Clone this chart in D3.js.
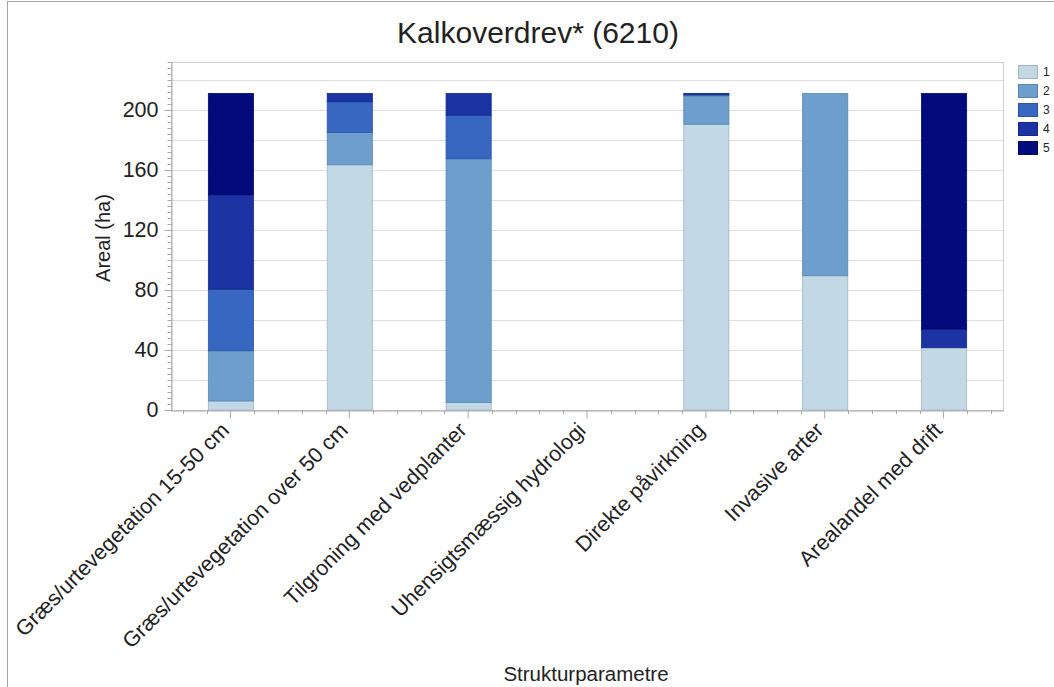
<!DOCTYPE html>
<html>
<head>
<meta charset="utf-8">
<script src="https://cdn.jsdelivr.net/npm/d3@7"></script>
<style>
  body { margin: 0; background: #fff; }
  svg text { font-family: "Liberation Sans", Arial, sans-serif; }
</style>
</head>
<body>
<div id="container"></div>
<script>
/* CONSTANTS AND GLOBALS */
const width = 1054, height = 687;
const margin = { top: 62, right: 51, bottom: 277, left: 171 };
const innerW = width - margin.left - margin.right;
const innerH = height - margin.top - margin.bottom;

// data
const categories = [
  "Græs/urtevegetation 15-50 cm",
  "Græs/urtevegetation over 50 cm",
  "Tilgroning med vedplanter",
  "Uhensigtsmæssig hydrologi",
  "Direkte påvirkning",
  "Invasive arter",
  "Arealandel med drift"
];
const seriesKeys = ["1", "2", "3", "4", "5"];
const s1 = [6, 163.5, 5, 0, 190.5, 89.5, 41.5];
const s2 = [33.5, 21.5, 162.5, 0, 19, 121.5, 0];
const s3 = [41, 20.5, 29, 0, 1, 0, 0];
const s4 = [63, 5.5, 14.5, 0, 0.5, 0, 12.5];
const s5 = [67.5, 0, 0, 0, 0, 0, 157];
const yTicks = [0, 40, 80, 120, 160, 200];
const colors = ["#c3d8e5", "#6e9ecc", "#3767c0", "#1b33a3", "#030a7c"];
const strokes = ["#9fb6c6", "#5a86b4", "#2c55a6", "#15298a", "#020765"];

const table = categories.map((c, i) => ({
  cat: c, "1": s1[i], "2": s2[i], "3": s3[i], "4": s4[i], "5": s5[i]
}));
const stacked = d3.stack().keys(seriesKeys)(table);

const svgRoot = d3.select("#container").append("svg")
  .attr("width", width).attr("height", height);

// outer frame
svgRoot.append("rect")
  .attr("x", 7.5).attr("y", 1.5)
  .attr("width", width).attr("height", height)
  .attr("fill", "none").attr("stroke", "#a0a4ad");

svgRoot.append("text")
  .attr("x", 538).attr("y", 43)
  .attr("text-anchor", "middle")
  .attr("font-size", 30).attr("fill", "#222")
  .text("Kalkoverdrev* (6210)");

const svg = svgRoot.append("g")
  .attr("transform", `translate(${margin.left},${margin.top})`);

const x = d3.scaleBand().domain(categories).range([0, innerW]).paddingInner(0.62).paddingOuter(0.31);
const y = d3.scaleLinear().domain([0, 232]).range([innerH, 0]);

// gridlines every 20
svg.append("g").selectAll("line")
  .data(d3.range(20, 232, 20))
  .join("line")
  .attr("x1", 0).attr("x2", innerW)
  .attr("y1", d => y(d) + 0.5).attr("y2", d => y(d) + 0.5)
  .attr("stroke", "#dedede");

// plot frame
svg.append("rect")
  .attr("x", 0.5).attr("y", 0.5)
  .attr("width", innerW).attr("height", innerH)
  .attr("fill", "none").attr("stroke", "#cfcfcf");

// bars
svg.append("g").selectAll("g")
  .data(stacked)
  .join("g")
  .attr("fill", (d, i) => colors[i])
  .attr("stroke", (d, i) => strokes[i])
  .selectAll("rect")
  .data(d => d.filter(p => p[1] - p[0] > 0))
  .join("rect")
  .attr("x", d => x(d.data.cat) + 0.5)
  .attr("y", d => y(d[1]))
  .attr("width", x.bandwidth())
  .attr("height", d => y(d[0]) - y(d[1]))
  .attr("stroke-width", 0.8);

// y axis: minor ticks every 4, labels every 40
const yAxisG = svg.append("g").attr("transform", "translate(0.5,0)");
yAxisG.call(d3.axisLeft(y).tickValues(d3.range(0, 232, 4)).tickSize(4).tickFormat(""))
  .call(g => g.select(".domain").attr("stroke", "#a8a8a8"))
  .call(g => g.selectAll(".tick line").attr("stroke", "#a8a8a8"));
svg.append("g").attr("transform", "translate(0.5,0)")
  .call(d3.axisLeft(y).tickValues(yTicks).tickSize(7).tickPadding(6))
  .call(g => g.select(".domain").remove())
  .call(g => g.selectAll(".tick line").attr("stroke", "#a8a8a8"))
  .call(g => g.selectAll(".tick text").attr("font-size", 21.5).attr("fill", "#222")
    .attr("font-family", "Liberation Sans, Arial, sans-serif"));

// x axis: category ticks plus minor ticks
const step = x.step();
const minor = [];
categories.forEach(c => {
  const cx = x(c) + x.bandwidth() / 2;
  for (let k = -2; k <= 2; k++) if (k !== 0) minor.push(cx + k * step / 5);
});
svg.append("g").selectAll("line")
  .data(minor)
  .join("line")
  .attr("x1", d => Math.round(d) + 0.5).attr("x2", d => Math.round(d) + 0.5)
  .attr("y1", innerH).attr("y2", innerH + 4)
  .attr("stroke", "#a8a8a8");
svg.append("g").attr("transform", `translate(0,${innerH + 0.5})`)
  .call(d3.axisBottom(x).tickSize(8).tickSizeOuter(0))
  .call(g => g.select(".domain").attr("stroke", "#a8a8a8"))
  .call(g => g.selectAll(".tick line").attr("stroke", "#a8a8a8"))
  .call(g => g.selectAll(".tick text")
    .attr("font-size", 21.5).attr("fill", "#222")
    .attr("font-family", "Liberation Sans, Arial, sans-serif")
    .attr("text-anchor", "end")
    .attr("x", 0).attr("y", 0).attr("dy", 0)
    .attr("transform", "translate(0,21) rotate(-45)"));

// axis titles
svgRoot.append("text")
  .attr("transform", `translate(110,238) rotate(-90)`)
  .attr("text-anchor", "middle")
  .attr("font-size", 20).attr("fill", "#222")
  .text("Areal (ha)");
svgRoot.append("text")
  .attr("x", 586).attr("y", 681)
  .attr("text-anchor", "middle")
  .attr("font-size", 20.5).attr("fill", "#222")
  .text("Strukturparametre");

// legend
const legend = svgRoot.append("g").attr("transform", "translate(1018,65)");
seriesKeys.forEach((k, i) => {
  legend.append("rect")
    .attr("x", 0.5).attr("y", i * 19 + 0.5)
    .attr("width", 19).attr("height", 13)
    .attr("fill", colors[i]).attr("stroke", strokes[i]);
  legend.append("text")
    .attr("x", 25).attr("y", i * 19 + 11)
    .attr("font-size", 12).attr("fill", "#222")
    .text(k);
});
</script>
</body>
</html>
